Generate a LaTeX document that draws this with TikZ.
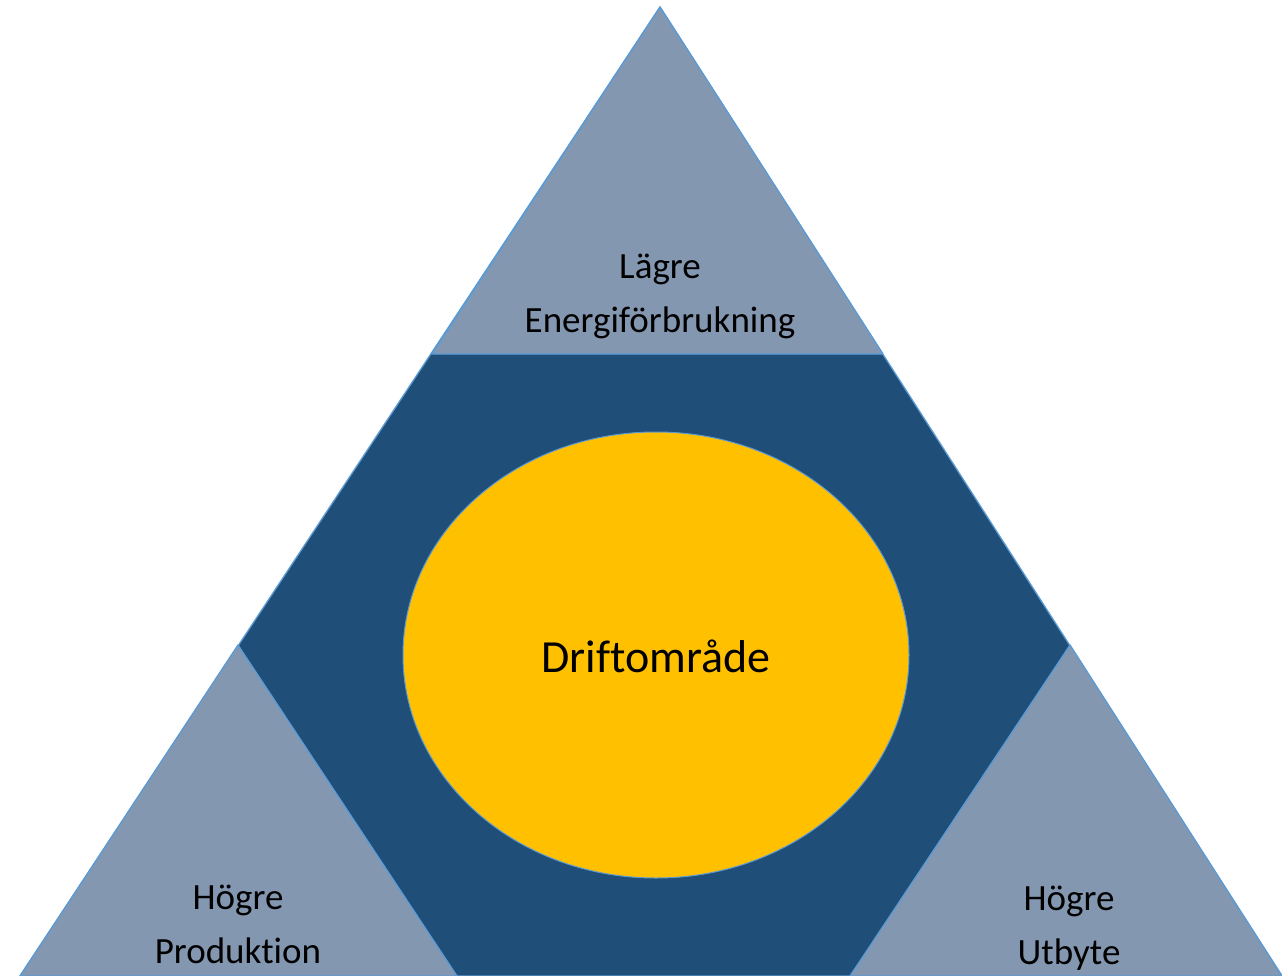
\documentclass[tikz,border=0pt]{standalone}
\usepackage{fontspec}
\setmainfont[Ligatures=NoCommon]{Carlito}
\usetikzlibrary{shapes.geometric}
\definecolor{hexblue}{HTML}{1F4E79}
\definecolor{cornergray}{HTML}{8497B0}
\definecolor{edgeblue}{HTML}{5B9BD5}
\definecolor{coreyellow}{HTML}{FFC000}
\begin{document}
\begin{tikzpicture}[x=1pt,y=-1pt,
  edge/.style={draw=edgeblue,line width=1.3pt,line join=round},
  cornerlabel/.style={align=center,font=\fontsize{37}{54}\selectfont,text=black},
  corelabel/.style={font=\fontsize{46}{55}\selectfont,text=black}]
\useasboundingbox (0,0) rectangle (1282,976);
% outer triangle, filled as the hexagonal band
\coordinate (apex) at (660,7);
\coordinate (bl) at (20,976);
\coordinate (br) at (1282,976);
\fill[white] (0,0) rectangle (1282,976);
\path[edge,fill=hexblue] (apex) -- (bl) -- (br) -- cycle;
% three corner triangles
\coordinate (tl) at (432,354);
\coordinate (tr) at (883,354);
\path[edge,fill=cornergray] (apex) -- (tl) -- (tr) -- cycle;
\coordinate (lapex) at (238,645);
\coordinate (lbr) at (457,976);
\path[edge,fill=cornergray] (lapex) -- (bl) -- (lbr) -- cycle;
\coordinate (rapex) at (1070,645);
\coordinate (rbl) at (850,976);
\path[edge,fill=cornergray] (rapex) -- (rbl) -- (br) -- cycle;
% central operating region
\node (core) [ellipse,draw=edgeblue,line width=1pt,fill=coreyellow,
  minimum width=506pt,minimum height=446pt,inner sep=0pt] at (656,655) {};
\node (coretext) [corelabel] at (656,656) {Driftområde};
\node (toptext) [cornerlabel] at (660,296) {Lägre\\Energiförbrukning};
\node (lefttext) [cornerlabel] at (238,924) {Högre\\Produktion};
\node (righttext) [cornerlabel] at (1069,928) {Högre\\Utbyte};
\end{tikzpicture}
\end{document}
